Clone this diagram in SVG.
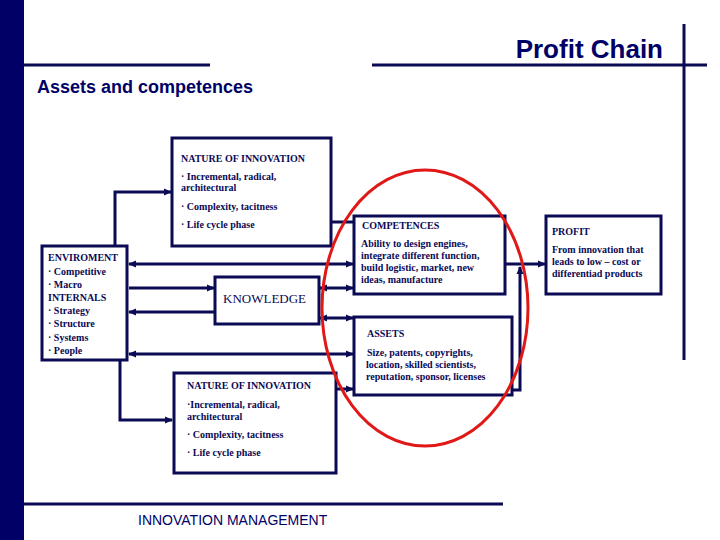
<svg xmlns="http://www.w3.org/2000/svg" width="720" height="540" viewBox="0 0 720 540">
<style>
.bx{fill:#fff;stroke:#0a0a55;stroke-width:3}
.t{font-family:"Liberation Serif","Times New Roman",serif;font-size:10px;font-weight:bold;fill:#0a0a55}
.k{font-family:"Liberation Serif","Times New Roman",serif;font-size:13px;fill:#0a0a55}
.h{font-family:"Liberation Sans",Arial,sans-serif;font-weight:bold;fill:#000066}
.ln{stroke:#0a0a55;stroke-width:3;fill:none}
.c{stroke:#0a0a55;stroke-width:3;fill:none}
</style>
<defs>
<marker id="ah" markerUnits="userSpaceOnUse" markerWidth="8" markerHeight="8" refX="7" refY="4" orient="auto-start-reverse">
<path d="M0,0.5 L8,4 L0,7.5 z" fill="#0a0a55"/>
</marker>
</defs>
<rect width="720" height="540" fill="#fff"/>
<g id="frame">
<rect x="0" y="0" width="24" height="540" fill="#000066"/>
<line class="ln" x1="24" y1="65" x2="210" y2="65"/>
<line class="ln" x1="372" y1="65" x2="707" y2="65"/>
<line class="ln" x1="684" y1="24" x2="684" y2="360"/>
<line class="ln" x1="24" y1="504" x2="503" y2="504"/>
<text class="h" x="663" y="58" font-size="26" text-anchor="end">Profit Chain</text>
<text class="h" x="37" y="93" font-size="18">Assets and competences</text>
<text x="138" y="525" font-family="Liberation Sans, Arial, sans-serif" font-size="14" fill="#000066">INNOVATION MANAGEMENT</text>
</g>
<g id="connectors">
<path class="c" d="M115,246 V192 H171" marker-end="url(#ah)"/>
<path class="c" d="M120,360 V420 H172" marker-end="url(#ah)"/>
<path class="c" d="M129,264 H353" marker-start="url(#ah)" marker-end="url(#ah)"/>
<path class="c" d="M129,288 H214" marker-end="url(#ah)"/>
<path class="c" d="M320,288 H353" marker-start="url(#ah)" marker-end="url(#ah)"/>
<path class="c" d="M215,312 H129" marker-end="url(#ah)"/>
<path class="c" d="M320,318 H353" marker-start="url(#ah)" marker-end="url(#ah)"/>
<path class="c" d="M129,354 H353" marker-start="url(#ah)" marker-end="url(#ah)"/>
<path class="c" d="M331,222 H354"/>
<path class="c" d="M336,389 H353" marker-end="url(#ah)"/>
<path class="c" d="M505,264 H545" marker-end="url(#ah)"/>
<path class="c" d="M512,390 H520 V267" marker-end="url(#ah)"/>
</g>
<g id="nature-top">
<rect class="bx" x="172" y="138" width="159" height="108"/>
<text class="t" x="181" y="162">NATURE OF INNOVATION</text>
<text class="t" x="181" y="180">· Incremental, radical,</text>
<text class="t" x="181" y="191">architectural</text>
<text class="t" x="181" y="210">· Complexity, tacitness</text>
<text class="t" x="181" y="228">· Life cycle phase</text>
</g>
<g id="enviroment">
<rect class="bx" x="42" y="246" width="85" height="114"/>
<text class="t" x="48" y="261">ENVIROMENT</text>
<text class="t" x="48" y="275">· Competitive</text>
<text class="t" x="48" y="288">· Macro</text>
<text class="t" x="48" y="301">INTERNALS</text>
<text class="t" x="48" y="314">· Strategy</text>
<text class="t" x="48" y="327">· Structure</text>
<text class="t" x="48" y="341">· Systems</text>
<text class="t" x="48" y="354">· People</text>
</g>
<g id="knowledge">
<rect class="bx" x="215" y="277" width="104" height="47"/>
<text class="k" x="223" y="303">KNOWLEDGE</text>
</g>
<g id="competences">
<rect class="bx" x="354" y="216" width="151" height="78"/>
<text class="t" x="362" y="229">COMPETENCES</text>
<text class="t" x="361" y="247">Ability to design engines,</text>
<text class="t" x="361" y="259">integrate different function,</text>
<text class="t" x="361" y="271">build logistic, market, new</text>
<text class="t" x="361" y="283">ideas, manufacture</text>
</g>
<g id="assets">
<rect class="bx" x="354" y="317" width="158" height="78"/>
<text class="t" x="367" y="337">ASSETS</text>
<text class="t" x="367" y="356">Size, patents, copyrights,</text>
<text class="t" x="366" y="368">location, skilled scientists,</text>
<text class="t" x="366" y="380">reputation, sponsor, licenses</text>
</g>
<g id="profit">
<rect class="bx" x="546" y="216" width="115" height="78"/>
<text class="t" x="552" y="235">PROFIT</text>
<text class="t" x="552" y="253">From innovation that</text>
<text class="t" x="552" y="265">leads to low – cost or</text>
<text class="t" x="552" y="277">differentiad products</text>
</g>
<g id="nature-bottom">
<rect class="bx" x="174" y="373" width="162" height="100"/>
<text class="t" x="187" y="389">NATURE OF INNOVATION</text>
<text class="t" x="187" y="408">·Incremental, radical,</text>
<text class="t" x="187" y="420">architectural</text>
<text class="t" x="187" y="438">· Complexity, tacitness</text>
<text class="t" x="187" y="456">· Life cycle phase</text>
</g>
<g id="highlight">
<ellipse cx="425" cy="308" rx="103" ry="138" fill="none" stroke="#e01818" stroke-width="3"/>
</g>
</svg>
